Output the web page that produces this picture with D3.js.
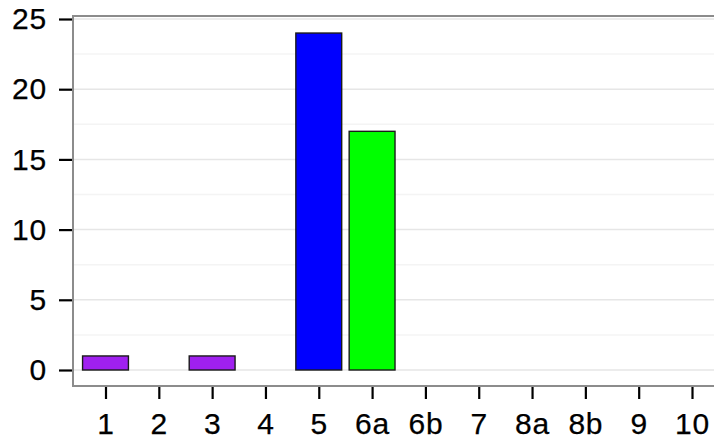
<!DOCTYPE html>
<html><head><meta charset="utf-8">
<script src="https://cdn.jsdelivr.net/npm/d3@7"></script>
<style>body{margin:0;background:#fff}svg{display:block}text{font-family:"Liberation Sans",Arial,sans-serif}</style>
</head><body>
<svg id="c" width="714" height="443"></svg>
<script>
const categories = ["1","2","3","4","5","6a","6b","7","8a","8b","9","10"];
const values = [1,0,1,0,24,17,0,0,0,0,0,0];
const colors = ["#A020F0","#A020F0","#A020F0","#A020F0","#0000FF","#00FF00","#00FF00","#00FF00","#00FF00","#00FF00","#00FF00","#00FF00"];
const yTicks = [0,5,10,15,20,25];
const yMinor = [2.5,7.5,12.5,17.5,22.5];

const svg = d3.select("#c");
const panel = {left:73, top:16, bottom:386, right:724};
const x = d3.scalePoint().domain(categories).range([105.5,692]);
const step = x.step();
const y = d3.scaleLinear().domain([0,25]).range([370,19]);

svg.append("rect").attr("x",panel.left).attr("y",panel.top)
  .attr("width",panel.right-panel.left).attr("height",panel.bottom-panel.top).attr("fill","#fff");

svg.append("g").selectAll("line").data(yMinor).join("line")
  .attr("x1",panel.left).attr("x2",panel.right)
  .attr("y1",d=>y(d)).attr("y2",d=>y(d))
  .attr("stroke","#F4F4F4").attr("stroke-width",1.5);
svg.append("g").selectAll("line").data(yTicks).join("line")
  .attr("x1",panel.left).attr("x2",panel.right)
  .attr("y1",d=>y(d)).attr("y2",d=>y(d))
  .attr("stroke","#E6E6E6").attr("stroke-width",1.5);

const bw = step*0.86;
svg.append("g").selectAll("rect").data(categories.map((c,i)=>({c,v:values[i],col:colors[i]})).filter(d=>d.v>0))
  .join("rect")
  .attr("x",d=>x(d.c)-bw/2).attr("width",bw)
  .attr("y",d=>y(d.v)).attr("height",d=>y(0)-y(d.v))
  .attr("fill",d=>d.col).attr("stroke","#1a1a1a").attr("stroke-width",1.4);

svg.append("rect").attr("x",panel.left).attr("y",panel.top)
  .attr("width",panel.right-panel.left).attr("height",panel.bottom-panel.top)
  .attr("fill","none").attr("stroke","#8C8C8C").attr("stroke-width",2);

const yAxis = d3.axisLeft(y).tickValues(yTicks).tickSize(13).tickPadding(12).tickFormat(d3.format("d"));
const gy = svg.append("g").attr("transform",`translate(${panel.left-1},0)`).call(yAxis);
gy.select(".domain").remove();
gy.selectAll(".tick line").attr("stroke","#000").attr("stroke-width",2.2);
gy.selectAll(".tick text").attr("font-size",30).attr("fill","#000").attr("stroke","#000").attr("stroke-width",0.25)
  .attr("letter-spacing",0.8).attr("font-family","Liberation Sans, Arial, sans-serif");

const xAxis = d3.axisBottom(x).tickSize(12).tickPadding(14);
const gx = svg.append("g").attr("transform",`translate(0,${panel.bottom+1})`).call(xAxis);
gx.select(".domain").remove();
gx.selectAll(".tick line").attr("stroke","#000").attr("stroke-width",2.2);
gx.selectAll(".tick text").attr("font-size",30).attr("fill","#000").attr("stroke","#000").attr("stroke-width",0.25)
  .attr("letter-spacing",0.8).attr("font-family","Liberation Sans, Arial, sans-serif");
</script>
</body></html>
